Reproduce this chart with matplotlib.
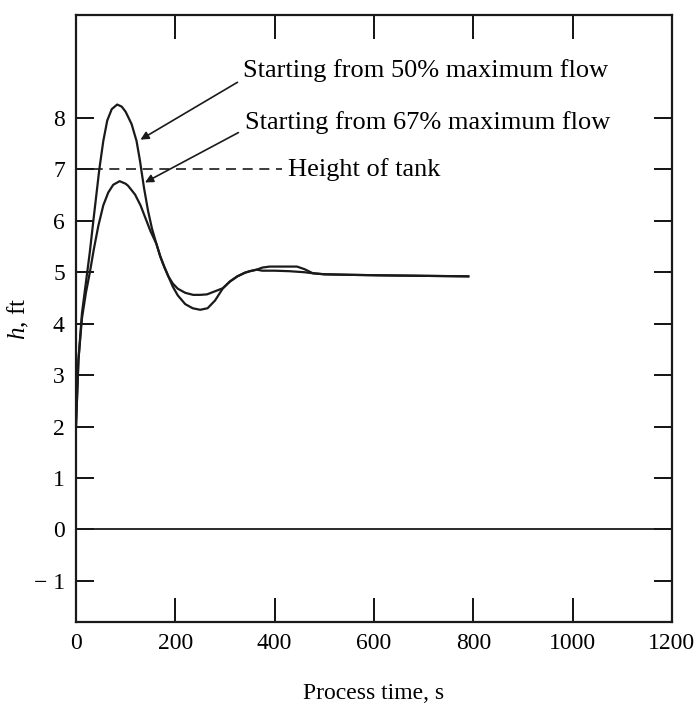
import matplotlib
matplotlib.use("Agg")
import matplotlib.pyplot as plt
import numpy as np

plt.rcParams['font.family'] = ['Liberation Serif', 'DejaVu Serif']
plt.rcParams['mathtext.fontset'] = 'custom'
plt.rcParams['mathtext.it'] = 'Liberation Serif:italic'
plt.rcParams['mathtext.rm'] = 'Liberation Serif'

# Starting from 50% maximum flow
t50 = [0, 5, 12, 20, 28, 35, 41, 47, 55, 63, 72, 83, 92, 100, 112, 122, 129, 132, 137, 145, 153, 162,
       170, 178, 186, 195, 205, 220, 235, 250, 265, 280, 296, 310, 325, 340, 350, 364,
       375, 390, 420, 445, 460, 477, 500, 550, 612, 700, 790]
h50 = [2.0, 3.3, 4.2, 4.8, 5.4, 6.0, 6.5, 7.0, 7.55, 7.95, 8.17, 8.26, 8.22, 8.12, 7.88, 7.55, 7.16, 6.96, 6.64, 6.2, 5.85, 5.55,
       5.3, 5.1, 4.92, 4.72, 4.55, 4.38, 4.3, 4.27, 4.3, 4.45, 4.69, 4.82, 4.92, 4.99, 5.02, 5.05,
       5.09, 5.11, 5.11, 5.11, 5.06, 4.98, 4.96, 4.95, 4.94, 4.93, 4.92]

# Starting from 67% maximum flow
t67 = [0, 5, 12, 20, 28, 36, 45, 55, 65, 75, 88, 100, 105, 119, 130, 140, 150, 162,
       170, 178, 186, 195, 205, 220, 236, 250, 264, 280, 296, 310, 325, 340, 350, 364,
       375, 400, 430, 460, 477, 500, 550, 612, 700, 790]
h67 = [2.0, 3.3, 4.1, 4.6, 5.0, 5.45, 5.9, 6.3, 6.55, 6.7, 6.77, 6.72, 6.68, 6.51, 6.3, 6.05, 5.8, 5.55,
       5.3, 5.1, 4.92, 4.78, 4.68, 4.6, 4.56, 4.56, 4.57, 4.63, 4.69, 4.82, 4.92, 4.99, 5.02, 5.05,
       5.03, 5.03, 5.02, 5.0, 4.98, 4.96, 4.95, 4.94, 4.93, 4.92]

tank_height = 7.0
xticks = [0, 200, 400, 600, 800, 1000, 1200]
yticks = [-1, 0, 1, 2, 3, 4, 5, 6, 7, 8]
ytick_labels = ['\u2212 1', '0', '1', '2', '3', '4', '5', '6', '7', '8']

fig = plt.figure(figsize=(6.97, 7.15), dpi=100)
ax = fig.add_axes([0.109, 0.130, 0.855, 0.849])

ax.plot(t50, h50, color='#1a1a1a', lw=1.6, solid_joinstyle='round')
ax.plot(t67, h67, color='#1a1a1a', lw=1.6, solid_joinstyle='round')
ax.axhline(0, color='#1a1a1a', lw=1.3)
ax.plot([0, 415], [tank_height, tank_height], color='#1a1a1a', lw=1.2, ls=(0, (6, 4)))

ax.set_xlim(0, 1200)
ax.set_ylim(-1.8, 10.0)
ax.set_xticks(xticks)
ax.set_yticks(yticks)
ax.set_yticklabels(ytick_labels)
ax.tick_params(axis='x', direction='in', top=True, length=17, width=1.3, labelsize=17, pad=8)
ax.tick_params(axis='y', direction='in', right=True, length=13, width=1.3, labelsize=17, pad=8)
for s in ax.spines.values():
    s.set_linewidth(1.6)
    s.set_color('#1a1a1a')

ax.set_xlabel('Process time, s', fontsize=17)
ax.xaxis.set_label_coords(0.5, -0.10)
ax.set_ylabel('$h$, ft', fontsize=18)
ax.yaxis.set_label_coords(-0.075, 0.5)

fs = 19
ax.text(336, 8.92, 'Starting from 50% maximum flow', fontsize=fs, va='center', ha='left')
ax.text(340, 7.92, 'Starting from 67% maximum flow', fontsize=fs, va='center', ha='left')
ax.text(427, 7.0, 'Height of tank', fontsize=fs, va='center', ha='left')

ax.annotate('', xy=(125, 7.55), xytext=(330, 8.72),
            arrowprops=dict(arrowstyle='-|>', color='#1a1a1a', lw=1.2, mutation_scale=12))
ax.annotate('', xy=(134, 6.72), xytext=(332, 7.74),
            arrowprops=dict(arrowstyle='-|>', color='#1a1a1a', lw=1.2, mutation_scale=12))

fig.savefig('out.png', dpi=100)
